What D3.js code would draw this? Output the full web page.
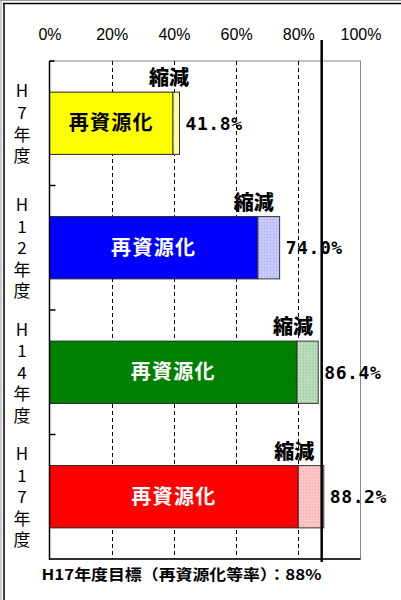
<!DOCTYPE html>
<html>
<head>
<meta charset="utf-8">
<script src="https://cdn.jsdelivr.net/npm/d3@7"></script>
<style>
body { margin: 0; background: #fff; }
svg { display: block; }
</style>
</head>
<body>
<div id="chart"></div>
<script>
var categories = ["H7年度", "H12年度", "H14年度", "H17年度"];
var recycled = [39.7, 67.0, 79.6, 80.0];
var reduction = [2.1, 7.0, 6.8, 8.2];
var target = 88;
var ticks = [0, 20, 40, 60, 80, 100];
var mainColors = ["#ffff00", "#0000ff", "#008000", "#ff0000"];
var lightColors = ["#ffffa8", "#c8c8ff", "#b8dcb8", "#ffc4c4"];
var dotColors = ["#f0f080", "#a8a8f0", "#98c898", "#f0a8a8"];
var innerTextColors = ["#000", "#fff", "#fff", "#fff"];
var footnote = "H17年度目標（再資源化等率）：88%";

var width = 401, height = 600;
var margin = {top: 61, right: 41, bottom: 41, left: 49.5};

var formatPct = d3.format(".1f");

var data = categories.map((c, i) => ({
	name: c,
	rec: recycled[i],
	red: reduction[i],
	total: recycled[i] + reduction[i],
	i: i
}));

var svg = d3.select("#chart").append("svg")
	.attr("width", width)
	.attr("height", height);

// dotted fills for the reduction part
var defs = svg.append("defs");
data.forEach(d => {
	var p = defs.append("pattern")
		.attr("id", "pat" + d.i)
		.attr("width", 3).attr("height", 3)
		.attr("patternUnits", "userSpaceOnUse");
	p.append("rect").attr("width", 3).attr("height", 3).attr("fill", lightColors[d.i]);
	p.append("rect").attr("width", 1).attr("height", 1).attr("fill", dotColors[d.i]);
});

// frame (top and left double line)
svg.append("line").attr("x1", 0).attr("x2", width).attr("y1", 0.5).attr("y2", 0.5)
	.attr("stroke", "#999").attr("stroke-width", 1);
svg.append("line").attr("x1", 3).attr("x2", width).attr("y1", 3.5).attr("y2", 3.5)
	.attr("stroke", "#000").attr("stroke-width", 1.5);
svg.append("line").attr("x1", 1).attr("x2", 1).attr("y1", 0).attr("y2", height)
	.attr("stroke", "#999").attr("stroke-width", 1);
svg.append("line").attr("x1", 4).attr("x2", 4).attr("y1", 3).attr("y2", height)
	.attr("stroke", "#000").attr("stroke-width", 1.5);

var x = d3.scaleLinear([0, 100], [margin.left, width - margin.right + 0.5]);
var y = d3.scaleBand()
	.domain(categories)
	.range([margin.top, height - margin.bottom])
	.paddingInner(0.5)
	.paddingOuter(0.25);

var y0 = margin.top, y1 = height - margin.bottom;

// plot box
svg.append("rect")
	.attr("x", x(0)).attr("y", y0)
	.attr("width", x(100) - x(0)).attr("height", y1 - y0)
	.attr("fill", "none").attr("stroke", "#888").attr("stroke-width", 1);

// dashed gridlines
svg.append("g")
	.selectAll("line")
	.data(ticks.filter(t => t > 0 && t < 100))
	.join("line")
	.attr("x1", d => Math.round(x(d)) + 0.5).attr("x2", d => Math.round(x(d)) + 0.5)
	.attr("y1", y0).attr("y2", y1)
	.attr("stroke", "#000")
	.attr("stroke-dasharray", "4,3");

// top tick labels
var axis = d3.axisTop(x).tickValues(ticks).tickSize(0).tickFormat(d => d + "%");
svg.append("g")
	.attr("transform", `translate(0,${y0 - 18})`)
	.call(axis)
	.call(g => g.select(".domain").remove())
	.call(g => g.selectAll("text")
		.attr("font-family", "Liberation Sans, Arial, sans-serif")
		.attr("font-size", 16)
		.attr("fill", "#000")
		.attr("dy", 0));

// bars
var bars = svg.append("g");
bars.selectAll("rect.rec")
	.data(data)
	.join("rect")
	.attr("class", "rec")
	.attr("x", x(0))
	.attr("y", d => y(d.name))
	.attr("width", d => x(d.rec) - x(0))
	.attr("height", y.bandwidth())
	.attr("fill", d => mainColors[d.i])
	.attr("stroke", "#222").attr("stroke-width", 1);

bars.selectAll("rect.red")
	.data(data)
	.join("rect")
	.attr("class", "red")
	.attr("x", d => x(d.rec))
	.attr("y", d => y(d.name))
	.attr("width", d => x(d.total) - x(d.rec))
	.attr("height", y.bandwidth())
	.attr("fill", d => `url(#pat${d.i})`)
	.attr("stroke", "#333").attr("stroke-width", 1);

// axis lines
svg.append("line").attr("x1", x(0)).attr("x2", x(0)).attr("y1", y0).attr("y2", y1 + 1)
	.attr("stroke", "#000").attr("stroke-width", 1.5);
svg.append("line").attr("x1", x(0)).attr("x2", x(100)).attr("y1", y1).attr("y2", y1)
	.attr("stroke", "#000").attr("stroke-width", 1.5);
svg.append("line").attr("x1", x(0)).attr("x2", x(0) + 5).attr("y1", y0).attr("y2", y0)
	.attr("stroke", "#000").attr("stroke-width", 1.5);

// category boundary ticks
svg.append("g")
	.selectAll("line")
	.data(categories.slice(1))
	.join("line")
	.attr("x1", x(0)).attr("x2", x(0) + 6)
	.attr("y1", d => y(d) - y.step() * y.paddingInner() / 2)
	.attr("y2", d => y(d) - y.step() * y.paddingInner() / 2)
	.attr("stroke", "#000").attr("stroke-width", 1.5);

// vertical category labels, one character per text
var catG = svg.append("g")
	.attr("font-family", "Noto Sans CJK JP, sans-serif")
	.attr("font-size", 17)
	.attr("text-anchor", "middle")
	.attr("fill", "#000");
data.forEach(d => {
	var chars = Array.from(d.name);
	var cy = y(d.name) + y.bandwidth() / 2;
	var lh = 21.6;
	catG.append("g").selectAll("text")
		.data(chars)
		.join("text")
		.attr("x", 22)
		.attr("y", (c, j) => cy + (j - (chars.length - 1) / 2) * lh + 6.5)
		.text(c => c);
});

// label inside bar
svg.append("g")
	.selectAll("text")
	.data(data)
	.join("text")
	.attr("x", d => (x(0) + x(d.rec)) / 2)
	.attr("y", d => y(d.name) + y.bandwidth() / 2 + 7)
	.attr("text-anchor", "middle")
	.attr("font-family", "Noto Sans CJK JP, sans-serif")
	.attr("font-weight", "bold")
	.attr("font-size", 20)
	.attr("letter-spacing", 1.3)
	.attr("fill", d => innerTextColors[d.i])
	.text("再資源化");

// 縮減 labels
svg.append("g")
	.selectAll("text")
	.data(data)
	.join("text")
	.attr("x", d => x(d.rec) - 4)
	.attr("y", d => y(d.name) - 14 + 7)
	.attr("text-anchor", "middle")
	.attr("font-family", "Noto Sans CJK JP, sans-serif")
	.attr("font-weight", "900")
	.attr("font-size", 20)
	.attr("fill", "#000")
	.text("縮減");

// total value labels
svg.append("g")
	.selectAll("text")
	.data(data)
	.join("text")
	.attr("x", d => x(d.total) + 6)
	.attr("y", d => y(d.name) + y.bandwidth() / 2 + 6.5)
	.attr("font-family", "DejaVu Sans Mono, monospace")
	.attr("font-weight", "bold")
	.attr("font-size", 18)
	.attr("letter-spacing", 0.6)
	.attr("fill", "#000")
	.text(d => formatPct(d.total) + "%");

// target line
svg.append("line")
	.attr("x1", x(target) - 1.5).attr("x2", x(target) - 1.5)
	.attr("y1", y0 - 21).attr("y2", y1 + 3)
	.attr("stroke", "#000").attr("stroke-width", 2.5);

// footnote
svg.append("text")
	.attr("x", 41.5)
	.attr("y", 580)
	.attr("font-family", "Noto Sans CJK JP, sans-serif")
	.attr("font-weight", "bold")
	.attr("font-size", 15)
	.attr("textLength", 280)
	.attr("lengthAdjust", "spacingAndGlyphs")
	.attr("fill", "#000")
	.text(footnote);
</script>
</body>
</html>
